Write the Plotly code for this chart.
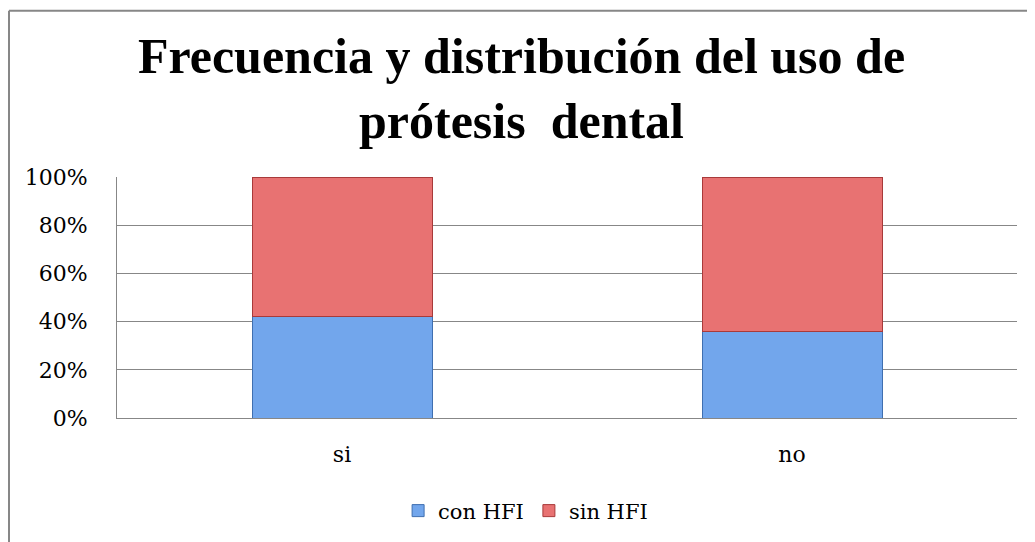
import plotly.graph_objects as go

categorias = ['si', 'no']
con_hfi = [42, 36]
sin_hfi = [58, 64]
ticks_y = [0, 20, 40, 60, 80, 100]
ticks_txt = [f'{v}%' for v in ticks_y]

AZUL = '#72a6ec'
ROJO = '#e87272'
GRIS = '#878787'
SERIF = 'DejaVu Serif'

fig = go.Figure()
fig.add_trace(go.Bar(
    x=categorias, y=con_hfi, name='con HFI',
    marker={'color': AZUL, 'line': {'color': '#3f6fb0', 'width': 1}},
))
fig.add_trace(go.Bar(
    x=categorias, y=sin_hfi, name='sin HFI',
    marker={'color': ROJO, 'line': {'color': '#a83a3a', 'width': 1}},
))

# la página html agrega 8px de margen, se compensa aquí
fig.update_layout(
    barmode='stack',
    bargap=0.6,
    width=1027, height=534,
    margin={'l': 109, 'r': 18, 't': 169, 'b': 123},
    paper_bgcolor='white', plot_bgcolor='white',
    font={'family': SERIF, 'size': 21, 'color': 'black'},
    title={
        'text': 'Frecuencia y distribución del uso de<br>prótesis \u00a0dental',
        'font': {'family': 'Liberation Serif', 'size': 50, 'color': 'black', 'weight': 'bold'},
        'x': 0.5, 'xanchor': 'center',
        'y': 0.878, 'yanchor': 'top', 'yref': 'container',
    },
    xaxis={
        'showgrid': False, 'showline': True, 'linecolor': GRIS, 'linewidth': 1,
        'ticks': '', 'ticklabelstandoff': 17, 'tickfont': {'size': 22},
    },
    yaxis={
        'range': [0, 100], 'tickvals': ticks_y, 'ticktext': ticks_txt,
        'showgrid': True, 'gridcolor': GRIS, 'gridwidth': 1,
        'showline': True, 'linecolor': GRIS, 'linewidth': 1,
        'zeroline': False, 'ticks': '', 'ticklabelstandoff': 24,
        'tickfont': {'size': 22},
    },
    legend={
        'orientation': 'h', 'x': 0.454, 'xanchor': 'center',
        'y': -0.38, 'yanchor': 'middle',
        'font': {'size': 21}, 'itemwidth': 30, 'traceorder': 'normal',
    },
)

# marco exterior del gráfico (solo bordes superior e izquierdo visibles)
fig.add_shape(type='line', xref='paper', yref='paper',
              x0=-0.12, x1=1.05, y0=1.69, y1=1.69,
              line={'color': GRIS, 'width': 2})
fig.add_shape(type='line', xref='paper', yref='paper',
              x0=-0.12, x1=-0.12, y0=1.69, y1=-0.6,
              line={'color': GRIS, 'width': 2})

fig.write_html('out.html')
